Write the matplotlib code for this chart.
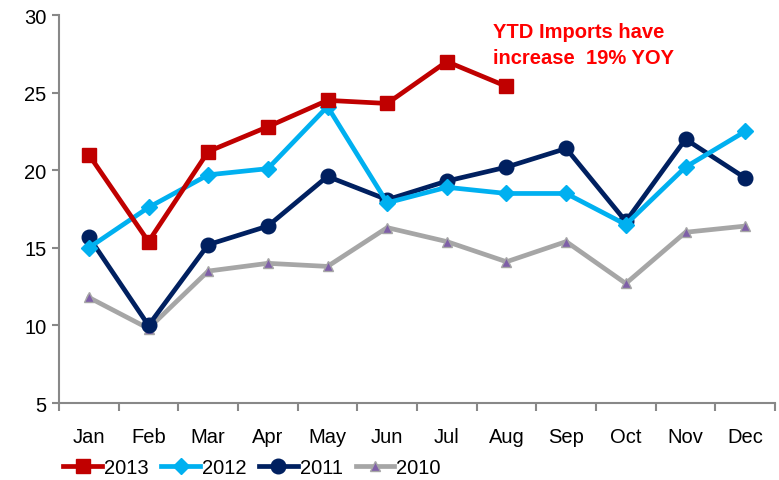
import numpy as np
import matplotlib.pyplot as plt

plt.rcParams['font.family'] = ['Liberation Sans', 'DejaVu Sans']

months = ['Jan', 'Feb', 'Mar', 'Apr', 'May', 'Jun', 'Jul', 'Aug', 'Sep', 'Oct', 'Nov', 'Dec']
y2013 = [21.0, 15.4, 21.2, 22.8, 24.5, 24.3, 27.0, 25.4]
y2012 = [15.0, 17.6, 19.7, 20.1, 24.1, 17.9, 18.9, 18.5, 18.5, 16.5, 20.2, 22.5]
y2011 = [15.7, 10.0, 15.2, 16.4, 19.6, 18.1, 19.3, 20.2, 21.4, 16.7, 22.0, 19.5]
y2010 = [11.8, 9.8, 13.5, 14.0, 13.8, 16.3, 15.4, 14.1, 15.4, 12.7, 16.0, 16.4]

fig = plt.figure(figsize=(7.79, 4.81), dpi=100)
ax = fig.add_axes([59/779, 1-404/481, 716/779, 388/481])

x = np.arange(len(months))
ax.plot(x[:len(y2013)], y2013, color='#C00000', lw=3.4, marker='s', ms=10.5, label='2013', zorder=5)
ax.plot(x, y2012, color='#00B0F0', lw=3.4, marker='D', ms=8, label='2012', zorder=4)
ax.plot(x, y2011, color='#002060', lw=3.4, marker='o', ms=10.5, label='2011', zorder=3)
ax.plot(x, y2010, color='#A6A6A6', lw=3.4, marker='^', ms=7, mfc='#7F5FA8', mec='#A6A6A6',
        mew=1, label='2010', zorder=2)

ax.set_xlim(-0.5, 11.5)
ax.set_ylim(5, 30)
ax.set_yticks([5, 10, 15, 20, 25, 30])
ax.set_xticks(x)
ax.set_xticklabels(months)
ax.set_xticks(np.arange(-0.5, 12, 1), minor=True)
ax.tick_params(axis='x', which='major', length=0, pad=17, labelsize=14.5)
ax.tick_params(axis='x', which='minor', length=6, width=1.5, color='#888888', direction='out')
ax.tick_params(axis='y', length=5, width=1.5, color='#888888', labelsize=14.5, pad=4)

for s in ['top', 'right']:
    ax.spines[s].set_visible(False)
for s in ['left', 'bottom']:
    ax.spines[s].set_color('#888888')
    ax.spines[s].set_linewidth(1.5)

ax.text(6.77, 29.55, 'YTD Imports have\nincrease  19% YOY', color='#FF0000', fontsize=14.5,
        fontweight='bold', va='top', ha='left', linespacing=1.45)

ax.legend(loc='upper left', bbox_to_anchor=(-0.005, -0.12), ncol=4, frameon=False,
          fontsize=14.5, handlelength=1.9, handletextpad=0.1, columnspacing=0.65, borderaxespad=0)

plt.savefig('out.png', dpi=100)
